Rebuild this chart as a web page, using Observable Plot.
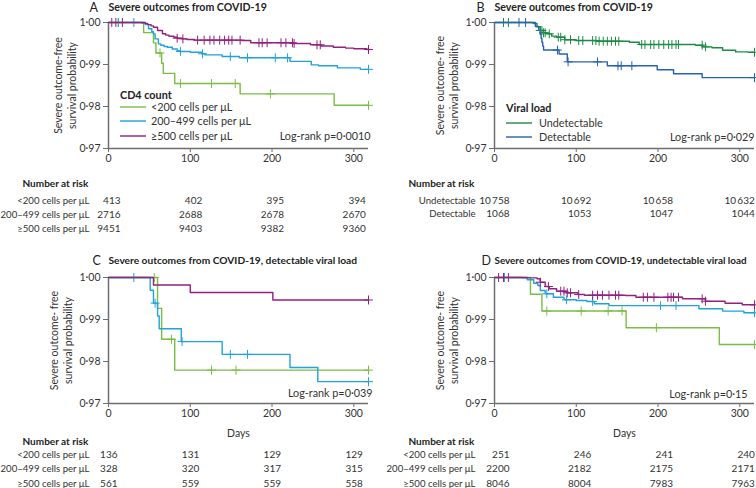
<!DOCTYPE html>
<html><head><meta charset="utf-8">
<script src="https://cdn.jsdelivr.net/npm/d3@7"></script>
<script src="https://cdn.jsdelivr.net/npm/@observablehq/plot@0.6"></script>
<style>
body{margin:0;background:#fff;}
#wrap{position:relative;width:756px;height:488px;overflow:hidden;font-family:Lato,sans-serif;}
.panel{position:absolute;}
</style></head><body><div id="wrap"></div>
<script>
// ---------- data ----------
const riskDays = [0, 100, 200, 300];
const xTicks = [0, 100, 200, 300];
const yTicks = [0.97, 0.98, 0.99, 1.00];
const cd4Labels = ["<200 cells per μL", "200–499 cells per μL", "≥500 cells per μL"];
const vlLabels = ["Undetectable", "Detectable"];

const riskA = [[413, 402, 395, 394], [2716, 2688, 2678, 2670], [9451, 9403, 9382, 9360]];
const riskB = [[10758, 10692, 10658, 10632], [1068, 1053, 1047, 1044]];
const riskC = [[136, 131, 129, 129], [328, 320, 317, 315], [561, 559, 559, 558]];
const riskD = [[251, 246, 241, 240], [2200, 2182, 2175, 2171], [8046, 8004, 7983, 7963]];

// Panel A: severe outcomes by CD4 count
const aLow = [[0,1],[43,0.99758],[55,0.99516],[58,0.99274],[65,0.99031],[67,0.98789],[81,0.98547],[161,0.98301],[276,0.98028],[318,0.98028]];
const aLowCens = [12, 63, 88, 126, 155, 198, 318];
const aMid = [[0,1],[41,0.9998],[45,0.9995],[49,0.9985],[53,0.9978],[55,0.9973],[57,0.9961],[61,0.9949],[64,0.9946],[68,0.9943],[72,0.9941],[78,0.9937],[84,0.9933],[88,0.9931],[100,0.9929],[114,0.99255],[118,0.9923],[139,0.9919],[160,0.9916],[222,0.99075],[248,0.9899],[257,0.9897],[280,0.9892],[308,0.98885],[318,0.98885]];
const aMidCens = [12, 31, 88, 115, 149, 170, 204, 219, 318];
const aHigh = [[0,1],[45,0.9998],[48,0.9995],[52,0.9992],[55,0.99888],[60,0.9981],[66,0.99731],[70,0.997],[74,0.99674],[80,0.9965],[84,0.99626],[90,0.9961],[96,0.99595],[105,0.9958],[163,0.99571],[174,0.99517],[226,0.995],[247,0.99469],[260,0.9944],[275,0.99412],[290,0.9939],[300,0.99374],[316,0.99357],[318,0.99357]];
const aHighCens = [4, 9, 17, 84, 91, 109, 117, 124, 129, 136, 142, 147, 151, 161, 184, 188, 194, 211, 217, 225, 227, 255, 259, 318];

// Panel B: by viral load
const bUnd = [[0,1],[46,0.9999],[48,0.99976],[52,0.999],[56,0.9981],[60,0.99755],[64,0.9973],[70,0.99675],[76,0.9965],[86,0.9959],[100,0.9957],[125,0.99555],[165,0.9953],[177,0.99476],[246,0.9946],[255,0.9942],[266,0.994],[279,0.9934],[295,0.993],[310,0.9929],[318,0.9929]];
const bUndCens = [11, 17, 56, 58, 60, 62, 67, 78, 81, 86, 93, 103, 108, 120, 124, 128, 133, 138, 143, 148, 152, 180, 184, 191, 195, 201, 207, 213, 217, 222, 225, 254, 258, 318];
const bDet = [[0,1],[50,0.99906],[54,0.99813],[56,0.99719],[57,0.99625],[58,0.99531],[59,0.99438],[60,0.99344],[79,0.9925],[89,0.99063],[138,0.98969],[199,0.98875],[219,0.98781],[254,0.98687],[318,0.98687]];
const bDetCens = [30, 38, 77, 90, 126, 151, 155, 168, 318];

// Panel C: detectable viral load, by CD4
const cLow = [[0,1],[60,0.99265],[65,0.9853],[81,0.97794],[318,0.97794]];
const cLowCens = [56, 77, 126, 156, 318];
const cMid = [[0,1],[51,0.99695],[55,0.9939],[60,0.99085],[62,0.9878],[89,0.98474],[139,0.9817],[222,0.97857],[256,0.9752],[318,0.9752]];
const cMidCens = [31, 57, 90, 149, 170, 318];
const cHigh = [[0,1],[55,0.99822],[100,0.99643],[201,0.99465],[318,0.99465]];
const cHighCens = [318];

// Panel D: undetectable viral load, by CD4
const dLow = [[0,1],[44,0.99602],[58,0.99203],[161,0.98805],[275,0.98403],[318,0.98403]];
const dLowCens = [12, 64, 106, 139, 156, 198, 318];
const dMid = [[0,1],[34,0.9999],[40,0.99945],[48,0.99864],[53,0.9981],[56,0.9969],[62,0.99612],[72,0.99531],[85,0.99469],[100,0.99452],[113,0.9943],[122,0.99374],[140,0.9933],[250,0.99255],[279,0.992],[305,0.9916],[318,0.9916]];
const dMidCens = [12, 64, 88, 120, 203, 222, 318];
const dHigh = [[0,1],[40,0.9999],[52,0.99969],[56,0.99888],[62,0.99786],[67,0.99731],[76,0.99674],[88,0.99636],[102,0.99595],[110,0.99579],[160,0.99571],[173,0.99531],[230,0.99493],[258,0.99436],[282,0.99388],[303,0.9935],[318,0.9935]];
const dHighCens = [5, 11, 17, 56, 66, 81, 85, 89, 93, 103, 120, 126, 132, 140, 148, 152, 182, 187, 195, 212, 216, 219, 225, 254, 258, 318];

// ---------- style ----------
const cLowCol = "#7abd45", cMidCol = "#1fa3da", cHighCol = "#93207f";
const vUndCol = "#1d8a45", vDetCol = "#2463b0";
const axisCol = "#6d6e71", textCol = "#333";

function stepAt(steps, d) { let v = steps[0][1]; for (const [x, y] of steps) { if (x <= d) v = y; else break; } return v; }
const yFmt = d => d.toFixed(2).replace(".", "·");
const nFmt = n => n >= 10000 ? String(n).replace(/(\d{2})(\d{3})$/, "$1\u2009$2") : String(n);

function makePanel(cfg) {
  const T = {lineAnchor: "middle", fill: textCol, fontSize: 10};
  const marks = [
    Plot.ruleY([0.97], {stroke: axisCol, strokeWidth: 1.5}),
    Plot.ruleX([0], {stroke: axisCol, strokeWidth: 1.5}),
    Plot.axisY({ticks: yTicks, tickFormat: yFmt, tickSize: 5, tickPadding: 3, stroke: axisCol, fill: textCol, fontSize: 10.5, label: null}),
    Plot.axisX({ticks: xTicks, tickSize: 4, tickPadding: 2, stroke: axisCol, fill: textCol, fontSize: 10.5, label: null})
  ];
  for (const s of cfg.series) {
    marks.push(Plot.line(s.steps, {x: d => d[0], y: d => d[1], curve: "step-after", stroke: s.color, strokeWidth: 1.4}));
    marks.push(Plot.dot(s.cens.map(d => [d, stepAt(s.steps, d)]), {x: d => d[0], y: d => d[1], symbol: "plus", r: 3, stroke: s.color, strokeWidth: 1}));
  }
  // titles
  marks.push(Plot.text([cfg.letter], {...T, text: d => d, frameAnchor: "top-left", dx: cfg.letterDx, dy: cfg.titleDy, textAnchor: "start", fontSize: 12.5, fill: "#222"}));
  marks.push(Plot.text([cfg.title], {...T, text: d => d, frameAnchor: "top-left", dx: 0, dy: cfg.titleDy, textAnchor: "start", fontSize: cfg.titleSize, fontWeight: "bold", fill: "#222"}));
  // y label
  marks.push(Plot.text([cfg.ylabel], {...T, text: d => d, frameAnchor: "left", rotate: -90, dx: cfg.ylabDx, textAnchor: "middle", lineHeight: 1.35, fontSize: 10.5}));
  // log-rank
  marks.push(Plot.text([cfg.logrank], {...T, text: d => d, frameAnchor: "bottom-right", dx: cfg.lrDx, dy: cfg.lrDy, textAnchor: "end", fontSize: 10.8}));
  if (cfg.days) marks.push(Plot.text(["Days"], {...T, text: d => d, frameAnchor: "bottom", dy: 30, fontSize: 10.5}));
  // risk table
  marks.push(Plot.text(["Number at risk"], {...T, text: d => d, frameAnchor: "bottom-left", dx: -86, dy: cfg.narDy, textAnchor: "start", fontWeight: "bold", fill: "#222"}));
  cfg.risk.forEach((row, i) => {
    marks.push(Plot.text([cfg.rowLabels[i]], {...T, text: d => d, frameAnchor: "bottom-left", dx: -19, dy: cfg.rowDy[i], textAnchor: "end", fontSize: 9.6}));
    marks.push(Plot.text(row.map((n, j) => ({day: riskDays[j], n})), {...T, x: "day", text: d => nFmt(d.n), frameAnchor: "bottom", dx: cfg.numDx, dy: cfg.rowDy[i], textAnchor: "end"}));
  });
  const plot = Plot.plot({
    width: 378, height: 244,
    marginLeft: cfg.ml, marginRight: cfg.mr, marginTop: cfg.mt, marginBottom: cfg.mb,
    x: {domain: [0, 318]},
    y: {domain: [0.97, 1.0]},
    style: {fontFamily: "Lato, sans-serif", fontSize: "10px", color: textCol, background: "transparent", overflow: "visible"},
    marks
  });
  // legend (layout only), svg pixel coordinates
  if (cfg.legend) {
    const svg = d3.select(plot);
    const g = svg.append("g").attr("font-family", "Lato, sans-serif").attr("font-size", 10.8).attr("text-anchor", "start");
    const L = cfg.legend;
    g.append("text").attr("x", L.x).attr("y", L.y).attr("dy", "0.35em").attr("text-anchor", "start").attr("font-weight", "bold").attr("fill", "#222").text(L.title);
    L.items.forEach((it, i) => {
      const yy = L.y + L.rows[i];
      g.append("line").attr("x1", L.x).attr("x2", L.x + 26).attr("y1", yy).attr("y2", yy).attr("stroke", it.color).attr("stroke-width", 1.4);
      g.append("text").attr("x", L.x + L.tx).attr("y", yy).attr("dy", "0.35em").attr("text-anchor", "start").attr("fill", textCol).text(it.label);
    });
  }
  const div = document.createElement("div");
  div.className = "panel";
  div.style.left = cfg.left + "px";
  div.style.top = cfg.top + "px";
  div.appendChild(plot);
  document.getElementById("wrap").appendChild(div);
}

const cd4Series = (lo, loC, mi, miC, hi, hiC) => [
  {steps: lo, cens: loC, color: cLowCol},
  {steps: mi, cens: miC, color: cMidCol},
  {steps: hi, cens: hiC, color: cHighCol}
];

makePanel({
  left: 0, top: 0, ml: 108, mr: 10, mt: 22, mb: 96,
  letter: "A", letterDx: -19, titleDy: -15, titleSize: 10.6, title: "Severe outcomes from COVID-19",
  ylabel: "Severe outcome-free\nsurvival probability", ylabDx: -44,
  logrank: "Log-rank p=0·0010", lrDx: 2, lrDy: -12,
  series: cd4Series(aLow, aLowCens, aMid, aMidCens, aHigh, aHighCens),
  risk: riskA, rowLabels: cd4Labels, narDy: 35, rowDy: [52, 66, 80], numDx: 12,
  legend: {x: 120, y: 95, title: "CD4 count", rows: [12, 26, 41], tx: 31,
    items: cd4Labels.map((l, i) => ({label: l, color: [cLowCol, cMidCol, cHighCol][i]}))}
});
makePanel({
  left: 378, top: 0, ml: 116, mr: 2, mt: 22, mb: 96,
  letter: "B", letterDx: -18, titleDy: -15, titleSize: 10.6, title: "Severe outcomes from COVID-19",
  ylabel: "Severe outcome- free\nsurvival probability", ylabDx: -48,
  logrank: "Log-rank p=0·029", lrDx: 0, lrDy: -11,
  series: [{steps: bUnd, cens: bUndCens, color: vUndCol}, {steps: bDet, cens: bDetCens, color: vDetCol}],
  risk: riskB, rowLabels: vlLabels, narDy: 35, rowDy: [52, 65.5], numDx: 15,
  legend: {x: 128, y: 108, title: "Viral load", rows: [15, 29], tx: 33,
    items: vlLabels.map((l, i) => ({label: l, color: [vUndCol, vDetCol][i]}))}
});
makePanel({
  left: 0, top: 244, ml: 108, mr: 10, mt: 33, mb: 85,
  letter: "C", letterDx: -16, titleDy: -17, titleSize: 10.2, title: "Severe outcomes from COVID-19, detectable viral load",
  ylabel: "Severe outcome- free\nsurvival probability", ylabDx: -48,
  logrank: "Log-rank p=0·039", lrDx: 4, lrDy: -10, days: true,
  series: cd4Series(cLow, cLowCens, cMid, cMidCens, cHigh, cHighCens),
  risk: riskC, rowLabels: cd4Labels, narDy: 38, rowDy: [51, 65.5, 80], numDx: 9
});
makePanel({
  left: 378, top: 244, ml: 116, mr: 2, mt: 33, mb: 85,
  letter: "D", letterDx: -13, titleDy: -17, titleSize: 9.9, title: "Severe outcomes from COVID-19, undetectable viral load",
  ylabel: "Severe outcome- free\nsurvival probability", ylabDx: -48,
  logrank: "Log-rank p=0·15", lrDx: -7, lrDy: -9, days: true,
  series: cd4Series(dLow, dLowCens, dMid, dMidCens, dHigh, dHighCens),
  risk: riskD, rowLabels: cd4Labels, narDy: 38, rowDy: [51, 65.5, 80], numDx: 15
});
</script></body></html>
